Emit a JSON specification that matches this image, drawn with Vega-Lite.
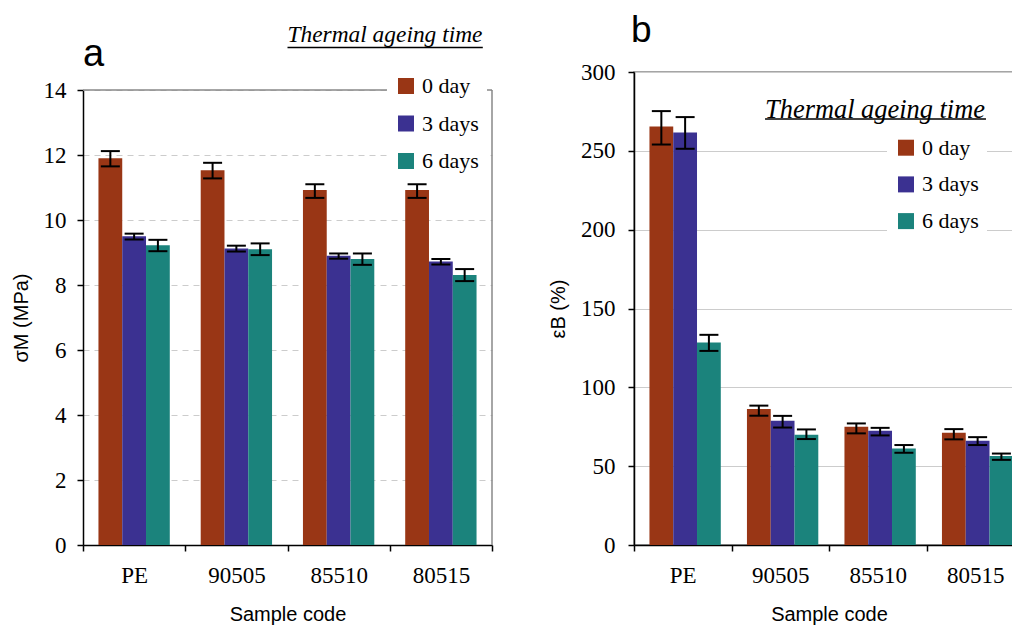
{
  "$schema": "https://vega.github.io/schema/vega-lite/v6.json",
  "padding": {"left": 11, "top": 11, "right": 0, "bottom": 0},
  "spacing": 54,
  "background": "white",
  "config": {
    "axis": {"labelFont": "Liberation Serif", "labelFontSize": 23, "labelColor": "black", "titleFont": "Liberation Sans", "titleFontSize": 20, "titleFontWeight": "normal", "titleColor": "black", "domainColor": "black", "tickColor": "black", "tickSize": 6, "domainWidth": 1.5, "tickWidth": 1.5},
    "axisX": {"labelFontSize": 23, "labelPadding": 13, "titlePadding": 17, "labelAngle": 0, "grid": false, "tickBand": "extent"},
    "axisY": {"labelPadding": 11, "titlePadding": 12, "gridColor": "#cccccc", "gridWidth": 1},
    "legend": {"orient": "none", "title": null, "fillColor": "white", "padding": 8, "symbolType": "square", "symbolSize": 256, "symbolStrokeWidth": 0, "symbolOpacity": 1, "labelFont": "Liberation Serif", "labelFontSize": 22, "labelColor": "black", "labelOffset": 5, "labelLimit": 200}
  },
  "datasets": {
    "sigma": [
      {"sample": "PE", "time": "0 day", "value": 11.9, "lo": 11.65, "hi": 12.12},
      {"sample": "PE", "time": "3 days", "value": 9.5, "lo": 9.4, "hi": 9.58},
      {"sample": "PE", "time": "6 days", "value": 9.22, "lo": 9.04, "hi": 9.39},
      {"sample": "90505", "time": "0 day", "value": 11.53, "lo": 11.28, "hi": 11.76},
      {"sample": "90505", "time": "3 days", "value": 9.12, "lo": 9.03, "hi": 9.21},
      {"sample": "90505", "time": "6 days", "value": 9.1, "lo": 8.92, "hi": 9.28},
      {"sample": "85510", "time": "0 day", "value": 10.92, "lo": 10.68, "hi": 11.1},
      {"sample": "85510", "time": "3 days", "value": 8.9, "lo": 8.81, "hi": 8.97},
      {"sample": "85510", "time": "6 days", "value": 8.8, "lo": 8.62, "hi": 8.97},
      {"sample": "80515", "time": "0 day", "value": 10.92, "lo": 10.68, "hi": 11.1},
      {"sample": "80515", "time": "3 days", "value": 8.72, "lo": 8.63, "hi": 8.8},
      {"sample": "80515", "time": "6 days", "value": 8.31, "lo": 8.12, "hi": 8.49}
    ],
    "eps": [
      {"sample": "PE", "time": "0 day", "value": 265.5, "lo": 254, "hi": 275.2},
      {"sample": "PE", "time": "3 days", "value": 261.7, "lo": 251.3, "hi": 271.4},
      {"sample": "PE", "time": "6 days", "value": 128.4, "lo": 123.1, "hi": 133.3},
      {"sample": "90505", "time": "0 day", "value": 86.2, "lo": 82, "hi": 88.4},
      {"sample": "90505", "time": "3 days", "value": 78.8, "lo": 74.5, "hi": 81.9},
      {"sample": "90505", "time": "6 days", "value": 69.9, "lo": 67.2, "hi": 73.3},
      {"sample": "85510", "time": "0 day", "value": 75, "lo": 70.8, "hi": 77.1},
      {"sample": "85510", "time": "3 days", "value": 72.4, "lo": 69.5, "hi": 74.3},
      {"sample": "85510", "time": "6 days", "value": 61.2, "lo": 58.5, "hi": 63.4},
      {"sample": "80515", "time": "0 day", "value": 71.2, "lo": 67, "hi": 73.5},
      {"sample": "80515", "time": "3 days", "value": 66.1, "lo": 63.4, "hi": 68.4},
      {"sample": "80515", "time": "6 days", "value": 56.4, "lo": 54, "hi": 58}
    ],
    "labA": [{"t": "a"}],
    "labB": [{"t": "b"}],
    "labT": [{"t": "Thermal ageing time"}]
  },
  "resolve": {"scale": {"y": "independent", "x": "independent", "color": "independent"}, "legend": {"color": "independent"}},
  "hconcat": [
    {
      "width": 409,
      "height": 473,
      "view": {"stroke": null},
      "layer": [
        {
          "data": {"name": "sigma"},
          "mark": {"type": "bar"},
          "encoding": {
            "x": {"field": "sample", "type": "nominal", "scale": {"domain": ["PE", "90505", "85510", "80515"], "paddingInner": 0, "paddingOuter": 0}, "axis": {"title": "Sample code"}},
            "xOffset": {"field": "time", "type": "nominal", "scale": {"domain": ["0 day", "3 days", "6 days"], "paddingInner": 0, "paddingOuter": 0.65}},
            "y": {"field": "value", "type": "quantitative", "scale": {"domain": [0, 14], "range": [473, 18], "nice": false, "zero": true}, "axis": {"title": "σM (MPa)", "values": [0, 2, 4, 6, 8, 10, 12, 14], "gridDash": [6, 5]}},
            "color": {"field": "time", "type": "nominal", "scale": {"domain": ["0 day", "3 days", "6 days"], "range": ["#993615", "#3b3191", "#1b837c"]}, "legend": {"legendX": 304, "legendY": -5, "rowPadding": 15.5}}
          }
        },
        {
          "data": {"name": "sigma"},
          "mark": {"type": "rule", "color": "black", "strokeWidth": 2},
          "encoding": {
            "x": {"field": "sample", "type": "nominal"},
            "xOffset": {"field": "time", "type": "nominal"},
            "y": {"field": "lo", "type": "quantitative"},
            "y2": {"field": "hi"}
          }
        },
        {
          "data": {"name": "sigma"},
          "mark": {"type": "tick", "color": "black", "thickness": 2, "size": 19, "opacity": 1},
          "encoding": {
            "x": {"field": "sample", "type": "nominal"},
            "xOffset": {"field": "time", "type": "nominal"},
            "y": {"field": "lo", "type": "quantitative"}
          }
        },
        {
          "data": {"name": "sigma"},
          "mark": {"type": "tick", "color": "black", "thickness": 2, "size": 19, "opacity": 1},
          "encoding": {
            "x": {"field": "sample", "type": "nominal"},
            "xOffset": {"field": "time", "type": "nominal"},
            "y": {"field": "hi", "type": "quantitative"}
          }
        },
        {
          "data": {"name": "labA"},
          "mark": {"type": "rule", "color": "#888888", "strokeWidth": 1.5},
          "encoding": {"y": {"datum": 14}}
        },
        {
          "data": {"name": "labA"},
          "mark": {"type": "rule", "color": "#888888", "strokeWidth": 1.5},
          "encoding": {"x": {"datum": "80515", "bandPosition": 1}, "y": {"datum": 0}, "y2": {"datum": 14}}
        },
        {
          "data": {"name": "labA"},
          "mark": {"type": "text", "font": "Liberation Sans", "fontSize": 38, "align": "left", "baseline": "alphabetic", "color": "black"},
          "encoding": {"text": {"field": "t"}, "x": {"datum": "PE", "bandPosition": 0}, "y": {"datum": 14.74}}
        },
        {
          "data": {"name": "labT"},
          "mark": {"type": "text", "font": "Liberation Serif", "fontStyle": "italic", "fontSize": 23.4, "align": "left", "baseline": "alphabetic", "color": "black"},
          "encoding": {"text": {"field": "t"}, "x": {"datum": "85510", "bandPosition": 0}, "y": {"datum": 15.48}}
        },
        {
          "data": {"name": "labT"},
          "mark": {"type": "rule", "color": "black", "strokeWidth": 1.5},
          "encoding": {"x": {"datum": "85510", "bandPosition": 0}, "x2": {"datum": "80515", "bandPosition": 0.91}, "y": {"datum": 15.31}}
        }
      ]
    },
    {
      "width": 390,
      "height": 473,
      "view": {"stroke": "#888888", "strokeWidth": 1.5},
      "layer": [
        {
          "data": {"name": "eps"},
          "mark": {"type": "bar"},
          "encoding": {
            "x": {"field": "sample", "type": "nominal", "scale": {"domain": ["PE", "90505", "85510", "80515"], "paddingInner": 0, "paddingOuter": 0}, "axis": {"title": "Sample code"}},
            "xOffset": {"field": "time", "type": "nominal", "scale": {"domain": ["0 day", "3 days", "6 days"], "paddingInner": 0, "paddingOuter": 0.65}},
            "y": {"field": "value", "type": "quantitative", "scale": {"domain": [0, 300], "nice": false, "zero": true}, "axis": {"title": "εB (%)", "values": [0, 50, 100, 150, 200, 250, 300], "labelPadding": 13, "titlePadding": 12.5}},
            "color": {"field": "time", "type": "nominal", "scale": {"domain": ["0 day", "3 days", "6 days"], "range": ["#993615", "#3b3191", "#1b837c"]}, "legend": {"legendX": 253, "legendY": 56.7, "rowPadding": 14.7}}
          }
        },
        {
          "data": {"name": "eps"},
          "mark": {"type": "rule", "color": "black", "strokeWidth": 2},
          "encoding": {
            "x": {"field": "sample", "type": "nominal"},
            "xOffset": {"field": "time", "type": "nominal"},
            "y": {"field": "lo", "type": "quantitative"},
            "y2": {"field": "hi"}
          }
        },
        {
          "data": {"name": "eps"},
          "mark": {"type": "tick", "color": "black", "thickness": 2, "size": 19, "opacity": 1},
          "encoding": {
            "x": {"field": "sample", "type": "nominal"},
            "xOffset": {"field": "time", "type": "nominal"},
            "y": {"field": "lo", "type": "quantitative"}
          }
        },
        {
          "data": {"name": "eps"},
          "mark": {"type": "tick", "color": "black", "thickness": 2, "size": 19, "opacity": 1},
          "encoding": {
            "x": {"field": "sample", "type": "nominal"},
            "xOffset": {"field": "time", "type": "nominal"},
            "y": {"field": "hi", "type": "quantitative"}
          }
        },
        {
          "data": {"name": "labB"},
          "mark": {"type": "text", "font": "Liberation Sans", "fontSize": 37, "align": "left", "baseline": "alphabetic", "color": "black", "dx": -3},
          "encoding": {"text": {"field": "t"}, "x": {"datum": "PE", "bandPosition": 0}, "y": {"datum": 319}}
        },
        {
          "data": {"name": "labT"},
          "mark": {"type": "text", "font": "Liberation Serif", "fontStyle": "italic", "fontSize": 26.4, "align": "left", "baseline": "alphabetic", "color": "black"},
          "encoding": {"text": {"field": "t"}, "x": {"datum": "90505", "bandPosition": 0.344}, "y": {"datum": 271}}
        },
        {
          "data": {"name": "labT"},
          "mark": {"type": "rule", "color": "black", "strokeWidth": 1.5},
          "encoding": {"x": {"datum": "90505", "bandPosition": 0.344}, "x2": {"datum": "80515", "bandPosition": 0.61}, "y": {"datum": 270.2}}
        }
      ]
    }
  ]
}
